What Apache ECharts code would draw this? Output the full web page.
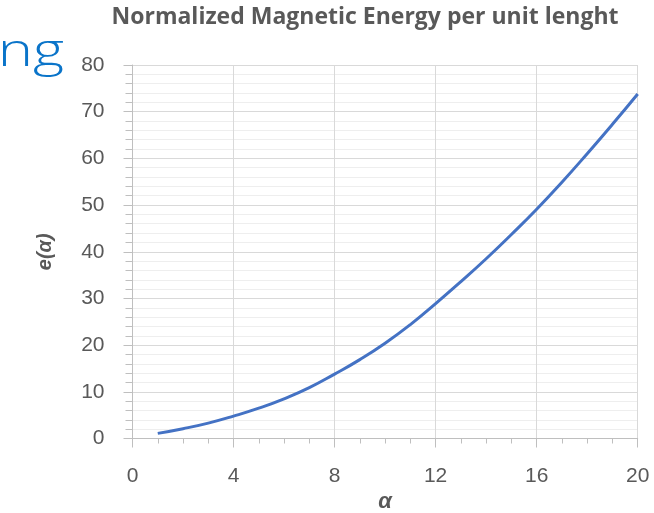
<!DOCTYPE html>
<html>
<head>
<meta charset="utf-8">
<script src="https://cdn.jsdelivr.net/npm/echarts@6/dist/echarts.min.js"></script>
<style>
  html, body { margin: 0; padding: 0; background: #fff; }
  #chart { width: 654px; height: 513px; }
</style>
</head>
<body>
<div id="chart"></div>
<script>
// alpha values and e(alpha)
const alphas = [1, 2, 3, 4, 5, 6, 7, 8, 9, 10, 11, 12, 13, 14, 15, 16, 17, 18, 19, 20];
const energy = [1.1, 2.1, 3.3, 4.8, 6.5, 8.5, 10.9, 13.8, 16.9, 20.4, 24.4, 28.9, 33.6, 38.5, 43.7, 49.1, 54.9, 61.0, 67.3, 73.8];

const chart = echarts.init(document.getElementById('chart'));

const labelColor = '#595959';
const font = 'Liberation Sans';

const option = {
  animation: false,
  title: {
    text: 'Normalized Magnetic Energy per unit lenght',
    left: 360,
    top: 1,
    textAlign: 'center',
    textStyle: { fontFamily: 'Open Sans', fontSize: 23, fontWeight: 'bold', color: labelColor }
  },
  // leftover slide text peeking in at top left
  graphic: [{
    type: 'text',
    x: 64,
    y: 53,
    scaleX: 1.3,
    style: {
      text: 'ng', align: 'right', verticalAlign: 'middle',
      fontFamily: 'Open Sans', fontSize: 46, fontWeight: 300, fill: '#0a74c9'
    }
  }],
  grid: { left: 132.5, right: 16.3, top: 65, bottom: 74.5, outerBoundsMode: 'none' },
  xAxis: {
    type: 'value',
    min: 0, max: 20, interval: 4,
    name: 'α',
    nameLocation: 'middle',
    nameGap: 43,
    nameTextStyle: { fontFamily: font, fontSize: 22, fontWeight: 'bold', fontStyle: 'italic', color: labelColor },
    axisLine: { lineStyle: { color: '#bfbfbf', width: 1 } },
    axisTick: { show: true, length: 9, lineStyle: { color: '#bfbfbf' } },
    minorTick: { show: true, splitNumber: 4, length: 5, lineStyle: { color: '#bfbfbf' } },
    axisLabel: { margin: 27, fontFamily: font, fontSize: 21, color: labelColor },
    splitLine: { show: true, lineStyle: { color: '#d9d9d9', width: 1 } }
  },
  yAxis: {
    type: 'value',
    min: 0, max: 80, interval: 10,
    name: 'e(α)',
    nameLocation: 'middle',
    nameGap: 77,
    nameRotate: 90,
    nameTextStyle: { fontFamily: font, fontSize: 20, fontWeight: 'bold', fontStyle: 'italic', color: labelColor },
    axisLine: { show: true, lineStyle: { color: '#bfbfbf', width: 1 } },
    axisTick: { show: true, length: 9, lineStyle: { color: '#bfbfbf' } },
    minorTick: { show: true, splitNumber: 5, length: 7, lineStyle: { color: '#bfbfbf' } },
    axisLabel: { margin: 28, fontFamily: font, fontSize: 21, color: labelColor },
    splitLine: { show: true, lineStyle: { color: '#d9d9d9', width: 1 } },
    minorSplitLine: { show: true, lineStyle: { color: '#eeeeee', width: 1 } }
  },
  series: [{
    type: 'line',
    data: alphas.map((a, i) => [a, energy[i]]),
    smooth: true,
    showSymbol: false,
    lineStyle: { color: '#4472c4', width: 3 }
  }]
};

chart.setOption(option);
</script>
</body>
</html>
